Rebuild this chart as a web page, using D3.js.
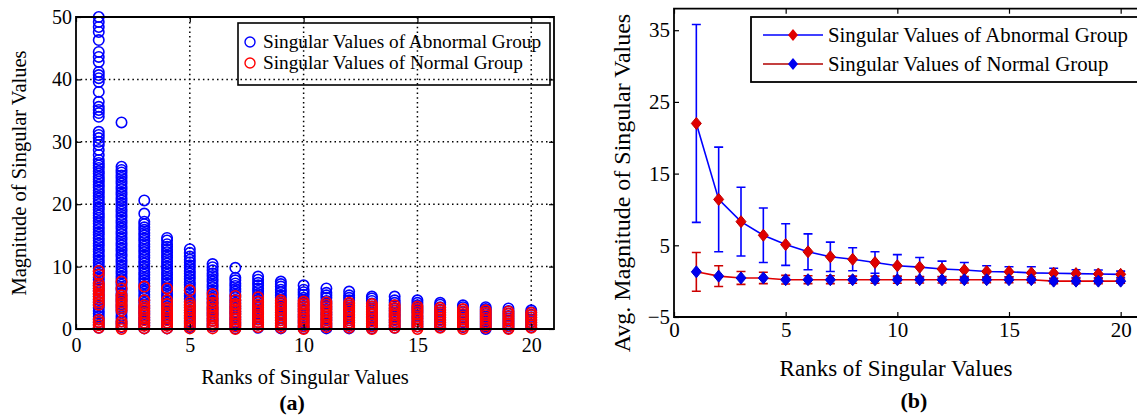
<!DOCTYPE html>
<html><head><meta charset="utf-8">
<script src="https://cdn.jsdelivr.net/npm/d3@7/dist/d3.min.js"></script>
<style>html,body{margin:0;padding:0;background:#fff;overflow:hidden}svg{display:block}</style>
</head><body><svg id="c" width="1137" height="419"></svg>
<script>
// ---------- DATA ----------
const ranks = [1,2,3,4,5,6,7,8,9,10,11,12,13,14,15,16,17,18,19,20];
const seriesNames = ["Singular Values of Abnormal Group", "Singular Values of Normal Group"];
// (a) scatter: singular values per rank (one list per rank)
const abnormalValues = [
  [50.0,49.2,48.4,47.6,46.3,44.4,43.6,42.8,41.2,40.7,40.2,39.6,38.0,36.4,35.6,35.1,34.6,34.0,31.6,31.1,30.6,30.0,29.5,28.7,27.9,27.1,26.6,26.2,25.8,25.3,24.9,24.4,24.0,23.6,23.1,22.7,22.2,21.8,21.3,20.9,20.4,20.0,19.5,19.1,18.6,18.2,17.8,17.3,16.9,16.4,16.0,15.5,15.1,14.6,14.2,13.7,13.3,12.8,12.4,11.9,11.5,11.0,10.6,10.1,9.7,9.2,8.8,8.3,7.9,7.4,7.0,6.5,6.1,5.6,5.2,4.7,4.3,3.8,3.4,2.9,2.5,2.0,1.6,1.1,0.7,0.2],
  [33.1,26.0,25.5,25.1,24.6,24.2,23.7,23.3,22.8,22.4,21.9,21.5,21.0,20.6,20.1,19.7,19.2,18.8,18.3,17.9,17.4,17.0,16.5,16.1,15.6,15.2,14.7,14.3,13.8,13.4,12.9,12.5,12.0,11.6,11.1,10.7,10.2,9.8,9.3,8.9,8.4,8.0,7.5,7.1,6.6,6.2,5.7,5.3,4.8,4.4,3.9,3.5,3.0,2.6,2.1,1.7,1.2,0.8,0.3],
  [20.6,18.5,17.2,16.8,16.3,15.9,15.4,15.0,14.5,14.1,13.6,13.2,12.7,12.3,11.8,11.4,10.9,10.5,10.0,9.6,9.1,8.7,8.2,7.8,7.3,6.9,6.4,6.0,5.5,5.1,4.6,4.2,3.7,3.3,2.8,2.4,1.9,1.5,1.0,0.6,0.1],
  [14.6,14.2,13.6,13.2,12.7,12.3,11.8,11.4,10.9,10.5,10.0,9.6,9.1,8.7,8.2,7.8,7.3,6.9,6.4,6.0,5.5,5.1,4.6,4.2,3.7,3.3,2.8,2.4,1.9,1.5,1.0,0.6,0.1],
  [12.8,12.2,11.6,11.1,10.7,10.2,9.8,9.3,8.9,8.4,8.0,7.5,7.1,6.6,6.2,5.7,5.3,4.8,4.4,3.9,3.5,3.0,2.6,2.1,1.7,1.2,0.8,0.3],
  [10.4,9.9,9.4,8.9,8.5,8.0,7.6,7.1,6.7,6.2,5.8,5.3,4.9,4.4,4.0,3.5,3.1,2.6,2.2,1.7,1.3,0.8,0.4],
  [9.8,8.2,7.8,7.3,6.9,6.4,6.0,5.5,5.1,4.6,4.2,3.7,3.3,2.8,2.4,1.9,1.5,1.0,0.6,0.1],
  [8.4,7.9,7.4,7.0,6.5,6.1,5.6,5.2,4.7,4.3,3.8,3.4,2.9,2.5,2.0,1.6,1.1,0.7,0.2],
  [7.6,7.2,6.8,6.3,5.9,5.4,5.0,4.5,4.1,3.6,3.2,2.7,2.3,1.8,1.4,0.9,0.5,0.1],
  [7.0,6.3,5.9,5.5,5.0,4.6,4.1,3.7,3.2,2.8,2.3,1.9,1.4,1.0,0.5,0.1],
  [6.5,5.8,5.4,5.0,4.5,4.1,3.6,3.2,2.7,2.3,1.8,1.4,0.9,0.5,0.1],
  [6.0,5.4,5.0,4.6,4.1,3.7,3.2,2.8,2.3,1.9,1.4,1.0,0.5,0.1],
  [5.2,4.9,4.5,4.1,3.6,3.2,2.7,2.3,1.8,1.4,0.9,0.5,0.1],
  [5.2,4.6,4.2,3.8,3.3,2.9,2.4,2.0,1.5,1.1,0.6,0.2],
  [4.6,4.2,3.8,3.4,3.0,2.6,2.1,1.7,1.2,0.8,0.4],
  [4.2,3.9,3.5,3.1,2.7,2.3,1.9,1.5,1.1,0.7,0.3],
  [3.8,3.5,3.1,2.7,2.3,1.9,1.5,1.1,0.7,0.3],
  [3.5,3.2,2.8,2.4,2.0,1.6,1.2,0.8,0.4,0.0],
  [3.3,2.9,2.5,2.1,1.7,1.3,0.9,0.5,0.1],
  [3.0,2.7,2.3,1.9,1.5,1.1,0.7,0.3]
];
const normalValues = [
  [9.3,8.7,7.3,6.9,6.5,6.1,5.6,5.2,4.8,4.3,3.9,1.5,1.1,0.6,0.2],
  [7.6,6.5,5.4,5.0,4.6,4.2,3.8,3.4,3.0,1.2,0.8,0.4,0.0],
  [6.8,4.6,3.8,3.4,3.0,2.6,2.2,1.8,1.4,1.0,0.5,0.1],
  [6.5,4.6,4.0,3.4,3.0,2.6,2.2,1.8,1.4,1.0,0.5,0.1],
  [6.2,4.3,3.8,3.4,3.0,2.6,2.2,1.8,1.4,1.0,0.5,0.1],
  [5.6,4.8,4.2,3.7,3.3,2.9,2.5,2.1,1.7,1.3,0.9,0.5,0.1],
  [5.3,4.6,4.0,3.6,3.2,2.8,2.4,2.0,1.6,1.2,0.8,0.4,0.0],
  [5.1,4.4,3.9,3.5,3.1,2.7,2.3,1.9,1.5,1.1,0.7,0.3],
  [4.6,4.2,3.8,3.4,3.0,2.6,2.2,1.8,1.4,1.0,0.6,0.2],
  [4.4,4.0,3.6,3.2,2.8,2.4,2.0,1.6,1.2,0.8,0.4,0.0],
  [4.3,3.9,3.5,3.1,2.7,2.3,1.9,1.5,1.1,0.7,0.3],
  [4.2,3.8,3.4,3.0,2.6,2.2,1.8,1.4,1.0,0.6,0.2],
  [4.0,3.6,3.2,2.8,2.4,2.0,1.6,1.2,0.8,0.4,0.0],
  [3.8,3.4,3.0,2.6,2.2,1.8,1.4,1.0,0.6,0.2],
  [3.6,3.2,2.8,2.4,2.0,1.6,1.2,0.8,0.4,0.0],
  [3.4,3.0,2.6,2.2,1.8,1.4,1.0,0.6,0.2],
  [3.2,2.8,2.4,2.0,1.6,1.2,0.8,0.4,0.0],
  [3.0,2.6,2.2,1.8,1.4,1.0,0.6,0.2],
  [2.8,2.4,2.0,1.6,1.2,0.8,0.4,0.0],
  [2.6,2.2,1.8,1.4,1.0,0.6,0.2]
];
// (b) averages and standard deviations
const abnormalMean = [22.0,11.4,8.3,6.4,5.1,4.1,3.4,3.05,2.6,2.15,1.95,1.7,1.55,1.35,1.3,1.15,1.1,1.05,1.0,0.95];
const abnormalStd  = [13.8,7.3,4.8,3.8,2.9,2.5,2.05,1.6,1.5,1.55,1.35,1.1,1.05,0.8,0.7,0.85,0.7,0.55,0.55,0.45];
const normalMean   = [1.3,0.7,0.45,0.45,0.2,0.2,0.2,0.2,0.2,0.2,0.2,0.2,0.2,0.2,0.2,0.2,0.0,0.0,0.0,0.0];
const normalStd    = [2.7,1.45,0.9,0.8,0.6,0.55,0.55,0.5,0.5,0.5,0.45,0.45,0.45,0.4,0.4,0.4,0.35,0.35,0.35,0.3];
const xTicksA = [0,5,10,15,20];
const yTicksA = [0,10,20,30,40,50];
const xTicksB = [0,5,10,15,20];
const yTicksB = [-5,5,15,25,35];
const xLabel = "Ranks of Singular Values";
const yLabelA = "Magnitude of Singular Values";
const yLabelB = "Avg. Magnitude of Singular Values";
const panelTags = ["(a)","(b)"];

// ---------- DRAW ----------
const FONT = '"Liberation Serif"';
const svg = d3.select("#c");
const BLUE = "#0000ff", RED = "#ff0000", DRED = "#cc0000";
const txt = (g) => g.append("text").style("font-family", FONT).attr("fill","#000");

function frame(g, x, y, xt, yt, fs, pad) {
  const [x0,x1] = x.range(), [y0,y1] = y.range();
  const ax = (gen, tr) => g.append("g").attr("transform", tr).call(gen)
    .call(s => s.select(".domain").remove())
    .call(s => s.selectAll(".tick line").attr("stroke","#000").attr("stroke-width",1.2))
    .call(s => s.selectAll("text").style("font-size", fs+"px").style("font-family", FONT).attr("fill","#000"));
  ax(d3.axisBottom(x).tickValues(xt).tickSize(-5).tickPadding(pad[0]).tickFormat(d3.format("d")), `translate(0,${y0})`);
  ax(d3.axisTop(x).tickValues(xt).tickSize(-5).tickFormat(""), `translate(0,${y1})`);
  ax(d3.axisLeft(y).tickValues(yt).tickSize(-5).tickPadding(pad[1]).tickFormat(d3.format("d")), `translate(${x0},0)`);
  ax(d3.axisRight(y).tickValues(yt).tickSize(-5).tickFormat(""), `translate(${x1},0)`);
  g.append("path").attr("d",`M${x0},${y1}H${x1}V${y0}H${x0}Z`).attr("fill","none").attr("stroke","#000").attr("stroke-width",1.8);
}

// ===== Panel (a) =====
const xa = d3.scaleLinear().domain([0,21]).range([76,554]);
const ya = d3.scaleLinear().domain([0,50]).range([329,17]);
const ga = svg.append("g");
// grid
ga.append("g").selectAll("line").data(xTicksA.filter(v=>v>0)).join("line")
  .attr("x1",d=>xa(d)).attr("x2",d=>xa(d)).attr("y1",ya(0)).attr("y2",ya(50))
  .attr("stroke","#000").attr("stroke-width",1.5).attr("stroke-dasharray","1.5,3.2");
ga.append("g").selectAll("line").data(yTicksA.filter(v=>v>0 && v<50)).join("line")
  .attr("y1",d=>ya(d)).attr("y2",d=>ya(d)).attr("x1",xa(0)).attr("x2",xa(21))
  .attr("stroke","#000").attr("stroke-width",1.5).attr("stroke-dasharray","1.5,3.2");
// scatter
const flat = (vals) => vals.flatMap((arr,i)=>arr.map(v=>({r:ranks[i], v})));
ga.append("g").selectAll("circle").data(flat(abnormalValues)).join("circle")
  .attr("cx",d=>xa(d.r)).attr("cy",d=>ya(d.v)).attr("r",5.2)
  .attr("fill","none").attr("stroke",BLUE).attr("stroke-width",1.6);
ga.append("g").selectAll("circle").data(flat(normalValues)).join("circle")
  .attr("cx",d=>xa(d.r)).attr("cy",d=>ya(d.v)).attr("r",5.2)
  .attr("fill","none").attr("stroke",RED).attr("stroke-width",1.6);
frame(ga, xa, ya, xTicksA, yTicksA, 20, [9,4]);
// legend (a)
const la = ga.append("g");
la.append("rect").attr("x",238).attr("y",23).attr("width",312).attr("height",62)
  .attr("fill","none").attr("stroke","#000").attr("stroke-width",1.6);
[BLUE,RED].forEach((c,i)=>{
  const yy = 42 + i*21;
  la.append("circle").attr("cx",250).attr("cy",yy).attr("r",5).attr("fill","none").attr("stroke",c).attr("stroke-width",1.4);
  txt(la).attr("x",263).attr("y",yy).attr("dy","0.33em").style("font-size","19.3px").text(seriesNames[i]);
});
txt(ga).attr("x",305).attr("y",377).attr("text-anchor","middle").attr("dy","0.33em").style("font-size","20.5px").text(xLabel);
txt(ga).attr("transform",`translate(19,173) rotate(-90)`).attr("text-anchor","middle").attr("dy","0.33em").style("font-size","20.5px").text(yLabelA);
txt(ga).attr("x",292).attr("y",402).attr("text-anchor","middle").attr("dy","0.35em").style("font-size","22px").style("font-weight","bold").text(panelTags[0]);

// ===== Panel (b) =====
const xb = d3.scaleLinear().domain([0,21]).range([674,1143]);
const yb = d3.scaleLinear().domain([-5,38]).range([317,8.7]);
const gb = svg.append("g");
const diamond = (cx,cy) => `M${cx},${cy-6}L${cx+5},${cy}L${cx},${cy+6}L${cx-5},${cy}Z`;
function errs(mean, sd, color) {
  const g = gb.append("g").attr("stroke",color).attr("stroke-width",1.6).attr("fill","none");
  mean.forEach((m,i)=>{
    const x = xb(ranks[i]), t = yb(m+sd[i]), b = yb(m-sd[i]);
    g.append("path").attr("d",`M${x},${t}V${b}M${x-4.5},${t}H${x+4.5}M${x-4.5},${b}H${x+4.5}`);
  });
}
const line = d3.line().x((d,i)=>xb(ranks[i])).y(d=>yb(d));
errs(abnormalMean, abnormalStd, BLUE);
gb.append("path").attr("d",line(abnormalMean)).attr("fill","none").attr("stroke",BLUE).attr("stroke-width",1.6);
errs(normalMean, normalStd, DRED);
gb.append("path").attr("d",line(normalMean)).attr("fill","none").attr("stroke","#e00000").attr("stroke-width",1.6);
gb.append("g").selectAll("path").data(abnormalMean).join("path")
  .attr("d",(d,i)=>diamond(xb(ranks[i]), yb(d))).attr("fill","#e00000").attr("stroke","#c00000").attr("stroke-width",1);
gb.append("g").selectAll("path").data(normalMean).join("path")
  .attr("d",(d,i)=>diamond(xb(ranks[i]), yb(d))).attr("fill","#0000f0").attr("stroke","#0000d0").attr("stroke-width",1);
frame(gb, xb, yb, xTicksB, yTicksB, 21, [5,4]);
// legend (b)
const lb = gb.append("g");
lb.append("rect").attr("x",751).attr("y",17).attr("width",400).attr("height",65)
  .attr("fill","#fff").attr("stroke","#000").attr("stroke-width",1.8);
[[BLUE,"#e00000"],["#b00000","#0000f0"]].forEach((c,i)=>{
  const yy = 35 + i*29;
  lb.append("line").attr("x1",763).attr("x2",823).attr("y1",yy).attr("y2",yy).attr("stroke",c[0]).attr("stroke-width",1.6);
  lb.append("path").attr("d",diamond(793,yy)).attr("fill",c[1]);
  txt(lb).attr("x",828).attr("y",yy).attr("dy","0.33em").style("font-size","20.8px").text(seriesNames[i]);
});
txt(gb).attr("x",896).attr("y",368).attr("text-anchor","middle").attr("dy","0.33em").style("font-size","23px").text(xLabel);
txt(gb).attr("transform",`translate(622,183) rotate(-90)`).attr("text-anchor","middle").attr("dy","0.33em").style("font-size","24px").text(yLabelB);
txt(gb).attr("x",914).attr("y",400).attr("text-anchor","middle").attr("dy","0.35em").style("font-size","22px").style("font-weight","bold").text(panelTags[1]);
</script></body></html>
